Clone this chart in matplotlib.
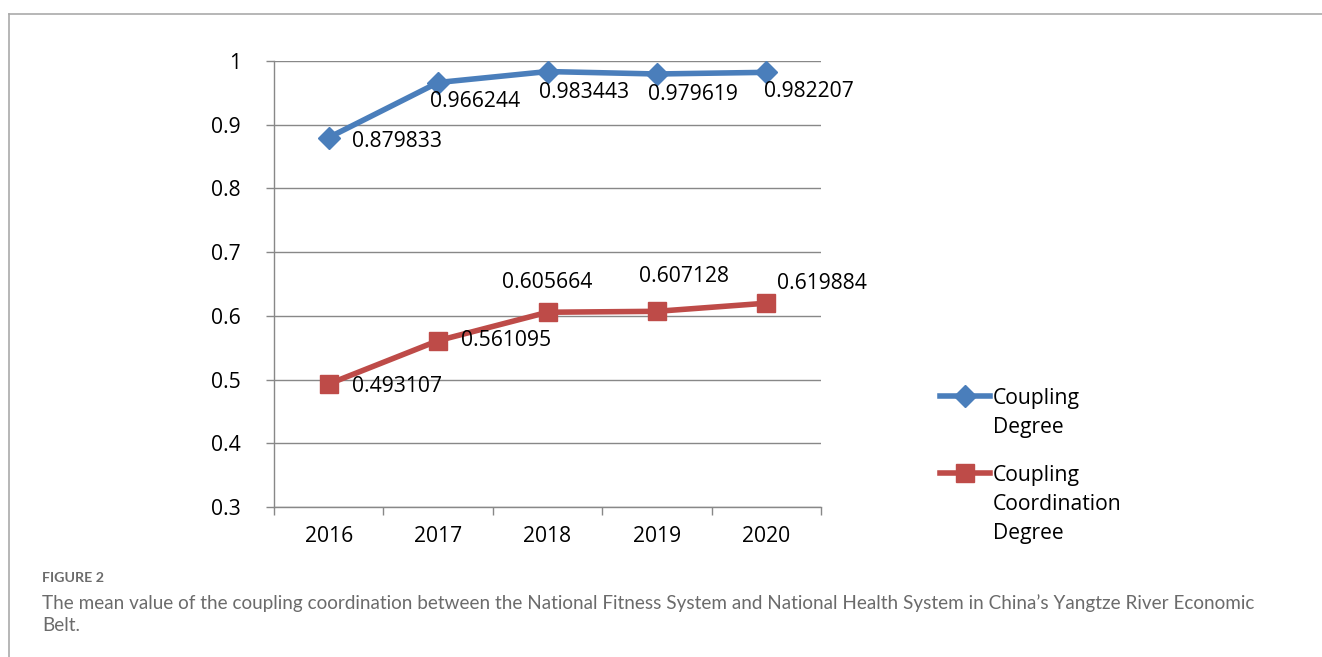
import matplotlib
matplotlib.use("Agg")
import matplotlib.pyplot as plt
from matplotlib.lines import Line2D

years = ["2016", "2017", "2018", "2019", "2020"]
coupling_degree = [0.879833, 0.966244, 0.983443, 0.979619, 0.982207]
coordination_degree = [0.493107, 0.561095, 0.605664, 0.607128, 0.619884]
yticks = [0.3, 0.4, 0.5, 0.6, 0.7, 0.8, 0.9, 1.0]
ytick_labels = ["0.3", "0.4", "0.5", "0.6", "0.7", "0.8", "0.9", "1"]

W, H = 1322, 657
fig = plt.figure(figsize=(W / 100, H / 100), dpi=100)
plt.rcParams['font.family'] = ['Open Sans', 'DejaVu Sans']

# outer frame lines
fig.add_artist(Line2D([9 / W, 1.0], [1 - 14 / H, 1 - 14 / H], color="#aaaaaa", lw=1.2))
fig.add_artist(Line2D([9 / W, 9 / W], [0, 1 - 14 / H], color="#aaaaaa", lw=1.2))

ax = fig.add_axes([274 / W, 1 - 507 / H, (821 - 274) / W, (507 - 61) / H])
x = list(range(len(years)))
blue = "#4a7ebb"
red = "#be4b48"
ax.plot(x, coupling_degree, color=blue, lw=4, marker="D", ms=11, mec=blue, mfc=blue, zorder=3)
ax.plot(x, coordination_degree, color=red, lw=4, marker="s", ms=12.5, mec=red, mfc=red, zorder=3)

ax.set_xlim(-0.5, 4.5)
ax.set_ylim(0.3, 1.0)
ax.set_yticks(yticks)
ax.set_yticklabels(ytick_labels)
ax.set_xticks(x)
ax.set_xticklabels(years)
ax.set_xticks([-0.5, 0.5, 1.5, 2.5, 3.5, 4.5], minor=True)
fs = 15.2
ax.tick_params(axis="x", which="major", length=0, pad=14, labelsize=fs, colors="#000000")
ax.tick_params(axis="x", which="minor", length=6, width=1, color="#888888", direction="out")
ax.tick_params(axis="y", length=6, width=1, color="#888888", pad=18, labelsize=fs)
ax.grid(axis="y", color="#888888", lw=1)
ax.set_axisbelow(True)
for s in ["top", "right"]:
    ax.spines[s].set_visible(False)
for s in ["left", "bottom"]:
    ax.spines[s].set_color("#888888")
    ax.spines[s].set_linewidth(1)

# coupling degree labels (right-below)
blue_off = [(23, -4), (-8, -19), (-9, -21), (-9, -21), (-2, -19)]
for i, v in enumerate(coupling_degree):
    ax.annotate(f"{v:.6f}", (i, v), xytext=blue_off[i], textcoords="offset pixels",
                ha="left", va="center", fontsize=fs)
red_off = [(23, -3), (23, 0), (0, 30), (27, 35), (11, 20)]
red_ha = ["left", "left", "center", "center", "left"]
for i, v in enumerate(coordination_degree):
    ax.annotate(f"{v:.6f}", (i, v), xytext=red_off[i], textcoords="offset pixels",
                ha=red_ha[i], va="center", fontsize=fs)

# legend
def legend_entry(y_px, color, marker, ms, text):
    fig.add_artist(Line2D([940 / W, 990 / W], [1 - y_px / H] * 2, color=color, lw=4))
    fig.add_artist(Line2D([965 / W], [1 - y_px / H], marker=marker, ms=ms, color=color, lw=0))
    fig.text(993 / W, 1 - (y_px - 8) / H, text, fontsize=fs, va="top", ha="left",
             linespacing=1.51)

legend_entry(396, blue, "D", 11, "Coupling\nDegree")
legend_entry(473, red, "s", 12.5, "Coupling\nCoordination\nDegree")

# caption
fig.text(42 / W, 1 - 578 / H, "FIGURE 2", fontsize=10.3, color="#6b6b6b", va="center",
         family=["Lato", "DejaVu Sans"], fontweight="bold")
fig.text(42 / W, 1 - 614 / H,
         "The mean value of the coupling coordination between the National Fitness System and National Health System in China\u2019s Yangtze River Economic\nBelt.",
         fontsize=13.6, color="#6b6b6b", va="center", family=["Lato", "DejaVu Sans"],
         linespacing=1.3)

fig.savefig("out.png", dpi=100)
